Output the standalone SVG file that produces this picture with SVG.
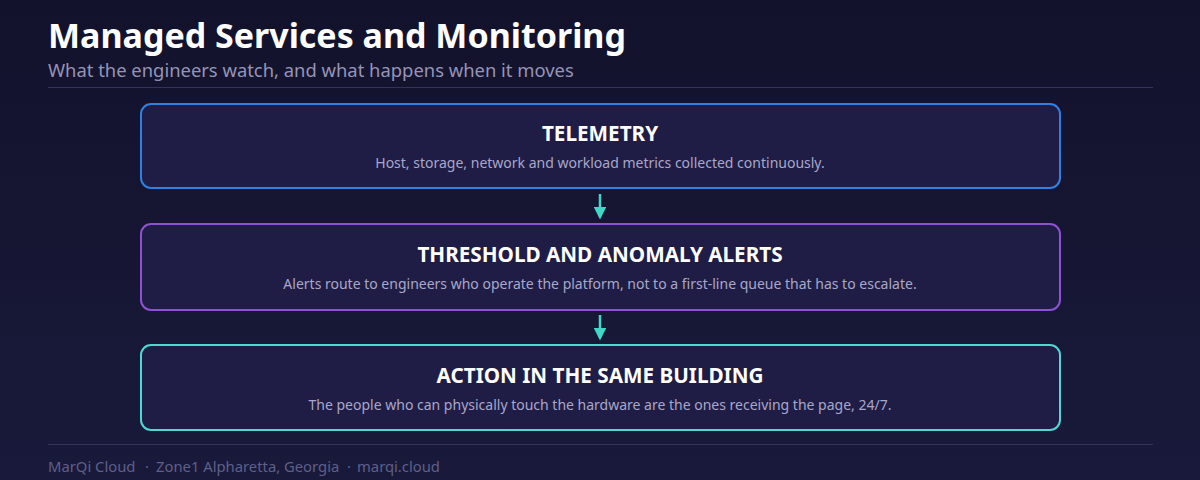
<svg xmlns="http://www.w3.org/2000/svg" width="1200" height="480" viewBox="0 0 1200 480">
<defs>
<linearGradient id="bg" x1="0" y1="0" x2="0" y2="1">
<stop offset="0" stop-color="#13122c"/>
<stop offset="1" stop-color="#191a3b"/>
</linearGradient>
<marker id="ah" viewBox="0 0 10 10" refX="8" refY="5" markerWidth="5" markerHeight="5" orient="auto">
<path d="M0,0 L10,5 L0,10 z" fill="#3fd8c8"/>
</marker>
</defs>
<style>
.t{font-family:"Noto Sans","Open Sans",sans-serif}
.box{fill:#1f1d45;stroke-width:2}
.bt{font-family:"Noto Sans","Open Sans",sans-serif;font-size:20.7px;font-weight:700;fill:#ffffff;text-anchor:middle}
.bd{font-family:"Noto Sans","Open Sans",sans-serif;font-size:14px;fill:#a9a7c9;text-anchor:middle}
.rule{stroke:#34345a;stroke-width:1}
.conn{stroke:#3fd8c8;stroke-width:2.5;fill:none}
</style>
<rect width="1200" height="480" fill="url(#bg)"/>
<g id="header">
<text class="t" x="48" y="48" font-size="34" font-weight="700" fill="#ffffff">Managed Services and Monitoring</text>
<text class="t" x="48" y="77" font-size="18.4" fill="#9594b6">What the engineers watch, and what happens when it moves</text>
<line class="rule" x1="48" y1="87.5" x2="1153" y2="87.5"/>
</g>
<g id="telemetry">
<rect class="box" x="141" y="104" width="919" height="84" rx="10" stroke="#2f80e2"/>
<text class="bt" x="600" y="141">TELEMETRY</text>
<text class="bd" x="600" y="168">Host, storage, network and workload metrics collected continuously.</text>
</g>
<g id="alerts">
<rect class="box" x="141" y="224" width="919" height="86" rx="10" stroke="#8c52d2"/>
<text class="bt" x="600" y="262">THRESHOLD AND ANOMALY ALERTS</text>
<text class="bd" x="600" y="289">Alerts route to engineers who operate the platform, not to a first-line queue that has to escalate.</text>
</g>
<g id="action">
<rect class="box" x="141" y="345" width="919" height="85" rx="10" stroke="#4fd8cf"/>
<text class="bt" x="600" y="383">ACTION IN THE SAME BUILDING</text>
<text class="bd" x="600" y="410">The people who can physically touch the hardware are the ones receiving the page, 24/7.</text>
</g>
<g id="connectors">
<line class="conn" x1="600" y1="194" x2="600" y2="217" marker-end="url(#ah)"/>
<line class="conn" x1="600" y1="315" x2="600" y2="338" marker-end="url(#ah)"/>
</g>
<g id="footer">
<line class="rule" x1="48" y1="444.5" x2="1153" y2="444.5"/>
<text class="t" x="48" y="472" font-size="14.8" fill="#5f5f88">MarQi Cloud<tspan x="145">·</tspan><tspan x="156">Zone1 Alpharetta, Georgia</tspan><tspan x="347">·</tspan><tspan x="357">marqi.cloud</tspan></text>
</g>
</svg>
